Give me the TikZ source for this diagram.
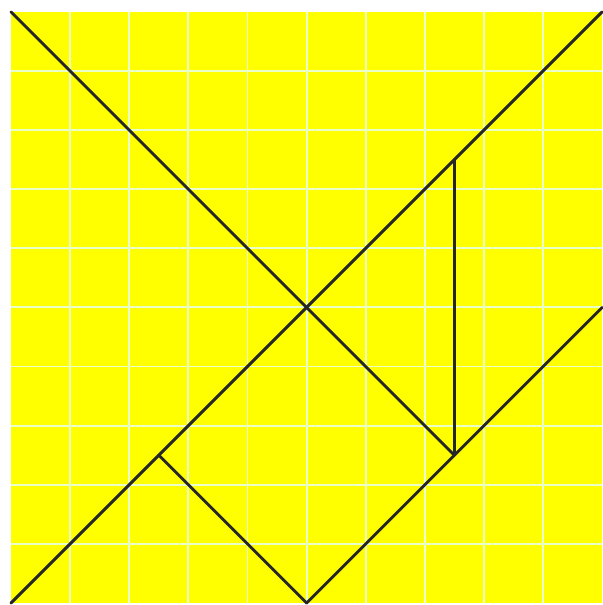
\documentclass[tikz,border=0pt]{standalone}
\usepackage{tikz}
\usetikzlibrary{calc}
\definecolor{tanfill}{RGB}{255,255,0}
\definecolor{tangrid}{RGB}{235,255,200}

\begin{document}
\begin{tikzpicture}[
        x=1cm, y=1cm,
        board/.style = {fill=tanfill, draw=none},
        gridline/.style = {draw=tangrid, line width=0.9pt},
        cut/.style = {draw=black!85, line width=1.4pt, line cap=round, line join=round},
    ]
        \useasboundingbox (-0.186,-0.034) rectangle (10,10.2);
        % Board
        \fill[board] (0,0) rectangle (10,10);
        \foreach \i in {1,...,9} {
            \draw[gridline] (\i,0) -- (\i,10);
            \draw[gridline] (0,\i) -- (10,\i);
        }
        % Corners and cut points
        \coordinate (bl) at (0,0);
        \coordinate (tl) at (0,10);
        \coordinate (tr) at (10,10);
        \coordinate (bm) at (5,0);
        \coordinate (rm) at (10,5);
        \coordinate (mid) at (5,5);
        \coordinate (sq) at (2.5,2.5);
        \coordinate (tip) at (7.5,7.5);
        \coordinate (foot) at (7.5,2.5);
        % Cuts
        \draw[cut] (bl) -- (tr);
        \draw[cut] (tl) -- (foot);
        \draw[cut] (tip) -- (foot);
        \draw[cut] (bm) -- (rm);
        \draw[cut] (sq) -- (bm);
    \end{tikzpicture}
\end{document}
